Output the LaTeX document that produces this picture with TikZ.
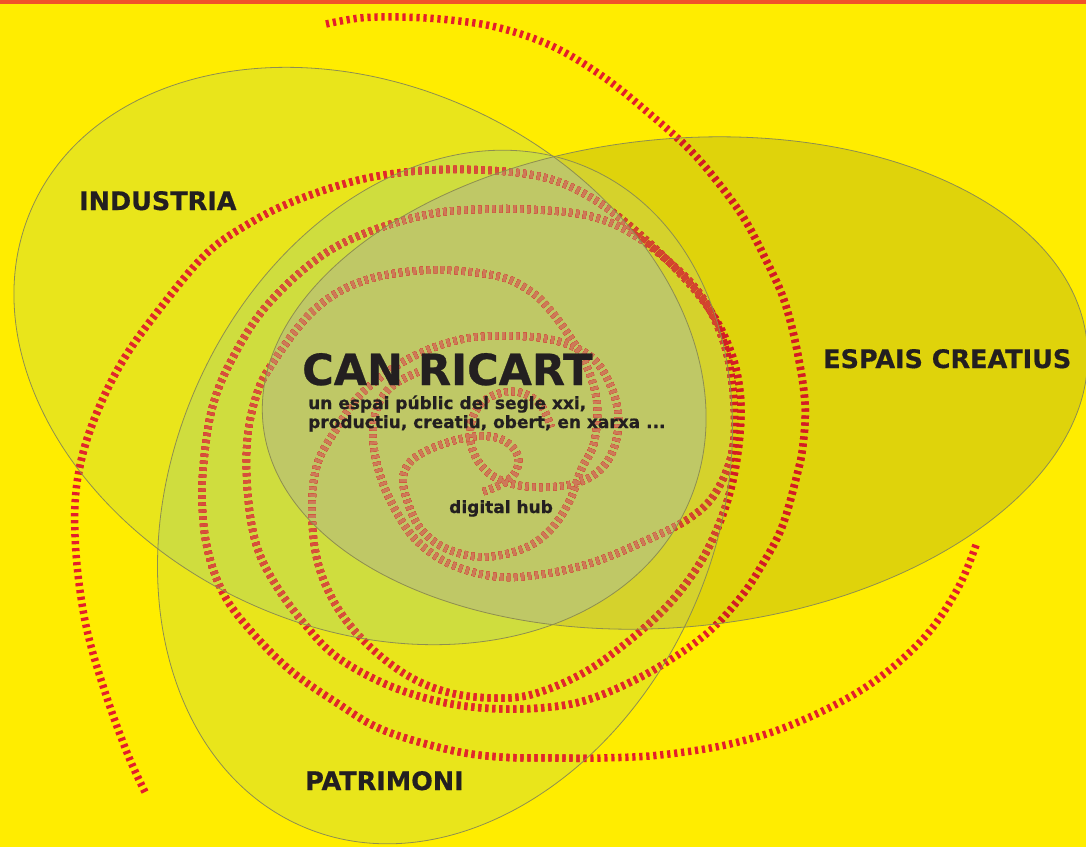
\documentclass[tikz,border=0pt]{standalone}
\usepackage{fontspec}
\setmainfont{DejaVu Sans}[BoldFeatures={FakeBold=0.6}]
\definecolor{cBG}{HTML}{FFED00}
\definecolor{cTop}{HTML}{F0532A}
\definecolor{cI}{HTML}{E9E51B}
\definecolor{cP}{HTML}{E9E51B}
\definecolor{cE}{HTML}{DFD30B}
\definecolor{cIP}{HTML}{CFDD3E}
\definecolor{cIE}{HTML}{CDD040}
\definecolor{cPE}{HTML}{D5D22C}
\definecolor{cIPE}{HTML}{BFC866}
\definecolor{sOut}{HTML}{E41E2B}
\definecolor{sI}{HTML}{E1272B}
\definecolor{sP}{HTML}{E1272B}
\definecolor{sE}{HTML}{D31C24}
\definecolor{sIP}{HTML}{D6503C}
\definecolor{sIE}{HTML}{D0503A}
\definecolor{sPE}{HTML}{D2452F}
\definecolor{sIPE}{HTML}{CD7A58}
\definecolor{txt}{HTML}{231F20}
\definecolor{edge}{HTML}{8E8E50}
\newcommand\drawspirals[1]{%
  \draw[sp,draw=#1,use path=\spA];
  \draw[sp,draw=#1,use path=\spB];
  \draw[sp,draw=#1,use path=\spC];}
\begin{document}
\begin{tikzpicture}[x=1pt,y=-1pt,
  ellI/.style={shift={(360,356)},rotate=-24.8},
  ellP/.style={shift={(445,497)},rotate=-23.4},
  ellE/.style={shift={(675,383)},rotate=5.6},
  sp/.style={line width=7.5pt, dash pattern=on 3.2pt off 3.8pt, line cap=butt},
  edgeline/.style={draw=edge, line width=0.8pt},
  lbl/.style={text=txt, inner sep=0pt, anchor=base west, font=\bfseries\fontsize{25.5}{30}\selectfont},
  sub/.style={text=txt, inner sep=0pt, anchor=base west, font=\bfseries\fontsize{17}{20}\selectfont}]
\useasboundingbox (0,0) rectangle (1086,847);
\fill[cBG] (0,0) rectangle (1086,847);
\fill[cTop] (0,0) rectangle (1086,3.5);
% ellipse fills
\fill[cI, ellI] (0,0) ellipse [x radius=360, y radius=271];
\fill[cP, ellP] (0,0) ellipse [x radius=272, y radius=359];
\fill[cE, ellE] (0,0) ellipse [x radius=414, y radius=244];
\begin{scope}
  \clip[ellI] (0,0) ellipse [x radius=360, y radius=271];
  \fill[cIP, ellP] (0,0) ellipse [x radius=272, y radius=359];
  \fill[cIE, ellE] (0,0) ellipse [x radius=414, y radius=244];
\end{scope}
\begin{scope}
  \clip[ellP] (0,0) ellipse [x radius=272, y radius=359];
  \fill[cPE, ellE] (0,0) ellipse [x radius=414, y radius=244];
\end{scope}
\begin{scope}
  \clip[ellI] (0,0) ellipse [x radius=360, y radius=271];
  \clip[ellP] (0,0) ellipse [x radius=272, y radius=359];
  \fill[cIPE, ellE] (0,0) ellipse [x radius=414, y radius=244];
\end{scope}
% spiral strokes
\path[save path=\spA] plot[smooth, tension=0.6] coordinates {(145,792) (128,755) (106,695) (87,630) (77,565) (75,505) (82,457) (98,410) (122,362) (155,315) (205,255) (250,223) (297,200) (363,179) (430,170) (500,171) (550,179) (590,197) (630,226) (675,268) (710,310) (731,352) (740,392) (740,433) (733,480) (720,522) (700,563) (670,603) (630,640) (585,672) (540,692) (505,698) (455,694) (410,677) (368,645) (337,607) (318,563) (312,513) (317,465) (337,428) (363,392) (410,358) (463,339) (515,336) (557,341) (590,356) (608,380) (618,412) (615,445) (600,470) (573,484) (532,487) (498,479) (478,461) (470,437) (475,412) (492,396) (518,392) (540,404) (551,427)};
\path[save path=\spB] plot[smooth, tension=0.6] coordinates {(976,545) (957,590) (922,640) (866,687) (796,723) (730,744) (660,755) (600,758) (554,758) (500,757) (450,750) (383,730) (337,703) (290,670) (250,630) (223,593) (207,547) (202,497) (205,450) (213,405) (230,363) (263,310) (313,262) (363,234) (430,214) (490,209) (540,210) (585,215) (620,227) (655,250) (697,290) (722,337) (733,390) (733,448) (716,492) (690,518) (647,540) (597,561) (550,573) (500,577) (452,565) (418,542) (397,513) (381,478) (373,440) (377,408) (392,386) (418,372)};
\path[save path=\spC] plot[smooth, tension=0.6] coordinates {(326,24) (360,18) (400,17) (450,20) (500,28) (554,47) (605,78) (651,115) (690,150) (720,185) (745,220) (766,260) (784,300) (797,350) (805,403) (803,445) (797,475) (782,527) (762,565) (740,598) (705,635) (650,672) (590,699) (540,708) (483,708) (433,700) (383,683) (337,657) (307,627) (277,587) (257,547) (248,497) (247,443) (255,400) (270,367) (313,311) (363,281) (430,270) (497,276) (530,291) (550,310) (570,337) (587,367) (597,403) (594,443) (581,470) (570,500) (552,528) (525,548) (483,557) (445,548) (420,528) (407,500) (403,478) (410,462) (428,450) (456,440) (483,436) (505,441) (518,456) (515,473) (500,485) (482,492)};
\drawspirals{sOut}
\begin{scope}
  \clip[ellI] (0,0) ellipse [x radius=360, y radius=271];
  \drawspirals{sI}
\end{scope}
\begin{scope}
  \clip[ellP] (0,0) ellipse [x radius=272, y radius=359];
  \drawspirals{sP}
\end{scope}
\begin{scope}
  \clip[ellE] (0,0) ellipse [x radius=414, y radius=244];
  \drawspirals{sE}
\end{scope}
\begin{scope}
  \clip[ellI] (0,0) ellipse [x radius=360, y radius=271];
  \clip[ellP] (0,0) ellipse [x radius=272, y radius=359];
  \drawspirals{sIP}
\end{scope}
\begin{scope}
  \clip[ellI] (0,0) ellipse [x radius=360, y radius=271];
  \clip[ellE] (0,0) ellipse [x radius=414, y radius=244];
  \drawspirals{sIE}
\end{scope}
\begin{scope}
  \clip[ellP] (0,0) ellipse [x radius=272, y radius=359];
  \clip[ellE] (0,0) ellipse [x radius=414, y radius=244];
  \drawspirals{sPE}
\end{scope}
\begin{scope}
  \clip[ellI] (0,0) ellipse [x radius=360, y radius=271];
  \clip[ellP] (0,0) ellipse [x radius=272, y radius=359];
  \clip[ellE] (0,0) ellipse [x radius=414, y radius=244];
  \drawspirals{sIPE}
\end{scope}
% outlines
\draw[edgeline, ellI] (0,0) ellipse [x radius=360, y radius=271];
\draw[edgeline, ellP] (0,0) ellipse [x radius=272, y radius=359];
\draw[edgeline, ellE] (0,0) ellipse [x radius=414, y radius=244];
% labels
\node[lbl] (industria) at (79,210) {INDUSTRIA};
\node[lbl] (espais) at (823,368) {ESPAIS CREATIUS};
\node[lbl] (patrimoni) at (305,790) {PATRIMONI};
\node[lbl, font=\bfseries\fontsize{43}{50}\selectfont] (canricart) at (302,385) {CAN RICART};
\node[sub] (sub1) at (308,409) {un espai públic del segle xxi,};
\node[sub] (sub2) at (308,428) {productiu, creatiu, obert, en xarxa ...};
\node[sub] (hub) at (449,513) {digital hub};
\end{tikzpicture}
\end{document}
